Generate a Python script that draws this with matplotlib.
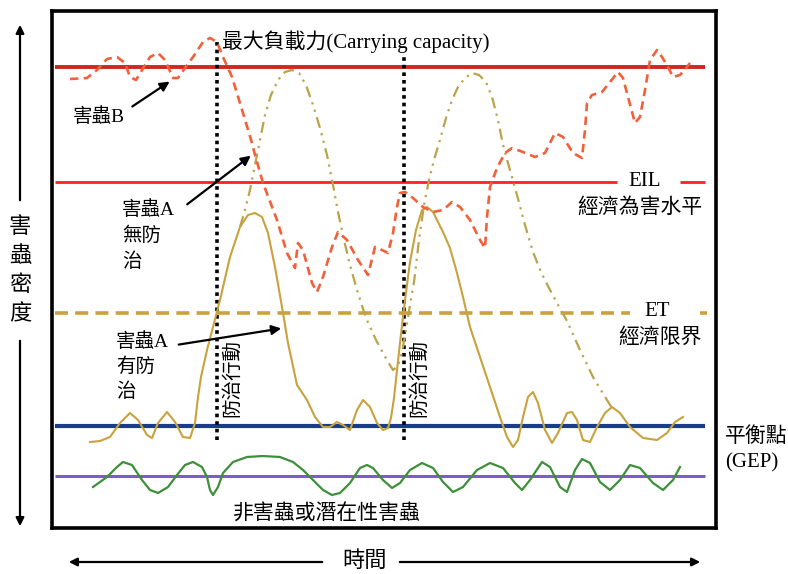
import matplotlib
matplotlib.use("Agg")
import matplotlib.pyplot as plt
import numpy as np

plt.rcParams['font.family'] = ['Liberation Serif', 'Noto Sans CJK TC', 'DejaVu Sans']

# ---------------- data (time, density) ----------------
carrying_level = 461
eil_level = 346
et_level = 215
gep_level = 102
nonpest_level = 52
control_times = [165, 352]
control_tops = [486, 473]
control_bottom = 88

pestB_t = [18, 35, 45, 55, 65, 73, 78, 84, 90, 98, 106, 113, 121, 126, 133, 141, 151, 158, 165, 171,
           180, 191, 200, 203, 211, 225, 235, 243, 246, 251, 260, 265, 271, 280, 286, 295, 306, 316,
           323, 330, 336, 341, 345, 348, 353, 361, 371, 381, 391, 400, 408, 418, 428, 433, 435, 438,
           445, 453, 460, 471, 483, 493, 503, 511, 521, 530, 533, 535, 540, 550, 558, 566, 571, 576,
           583, 588, 593, 598, 605, 610, 616, 621, 628, 635, 638]
pestB_d = [449, 450, 458, 469, 471, 465, 451, 448, 458, 471, 475, 468, 450, 450, 460, 471, 486, 490, 486, 471,
           451, 415, 385, 373, 345, 308, 275, 260, 285, 278, 245, 236, 251, 281, 296, 288, 268, 253,
           281, 278, 275, 295, 321, 335, 336, 330, 321, 316, 318, 326, 321, 308, 288, 280, 311, 341,
           360, 375, 380, 376, 371, 375, 395, 391, 375, 370, 398, 425, 433, 436, 446, 456, 450, 431,
           405, 411, 438, 468, 478, 471, 461, 451, 453, 461, 465]

pestA_free_t = [188, 193, 198, 203, 208, 213, 219, 226, 233, 240, 247, 254, 261, 268, 275, 281, 286, 292,
                298, 305, 314, 325, 336, 341, 346, 350, 354, 358, 362, 367, 372, 377, 382, 388, 394, 400,
                406, 413, 420, 427, 434, 440, 446, 451, 456, 465, 473, 481, 489, 497, 505, 515, 528, 541,
                555, 560]
pestA_free_d = [301, 318, 338, 363, 388, 413, 433, 448, 456, 458, 455, 443, 423, 400, 373, 343, 316, 288,
                263, 238, 210, 186, 166, 158, 162, 176, 198, 223, 246, 288, 323, 348, 368, 388, 410, 428,
                441, 450, 455, 453, 446, 431, 408, 383, 365, 333, 303, 276, 256, 240, 225, 207, 178, 151,
                128, 120]

pestA_ctrl_t = [38, 48, 58, 68, 78, 86, 95, 100, 106, 115, 123, 131, 138, 143, 146, 149, 155, 161, 168,
                178, 188, 196, 203, 210, 216, 223, 230, 236, 245, 255, 263, 271, 278, 285, 291, 298, 305,
                311, 318, 325, 331, 336, 339, 342, 345, 348, 353, 358, 364, 370, 375, 381, 391, 398, 405,
                411, 418, 428, 438, 448, 455, 461, 466, 471, 476, 481, 486, 493, 500, 506, 515, 520, 525,
                531, 538, 545, 553, 560, 568, 578, 591, 605, 615, 623, 631]
pestA_ctrl_d = [86, 87, 91, 105, 115, 108, 93, 90, 105, 116, 106, 91, 90, 105, 131, 151, 178, 201, 228,
                271, 301, 313, 315, 311, 295, 261, 221, 185, 143, 128, 111, 101, 101, 106, 103, 98, 118,
                128, 121, 105, 98, 100, 110, 130, 158, 185, 228, 266, 298, 318, 321, 316, 296, 280, 255,
                231, 201, 171, 141, 111, 91, 81, 88, 111, 131, 136, 125, 98, 85, 95, 115, 116, 108,
                88, 86, 101, 115, 121, 115, 101, 90, 88, 95, 106, 111]

nonpest_t = [41, 48, 55, 65, 71, 80, 90, 98, 106, 116, 125, 133, 141, 150, 155, 158, 161, 166, 171, 181,
             195, 211, 228, 241, 251, 261, 271, 280, 288, 298, 308, 315, 321, 331, 340, 348, 358, 370,
             381, 391, 401, 411, 425, 438, 451, 463, 470, 478, 490, 498, 508, 515, 523, 530, 538, 548,
             558, 568, 578, 588, 601, 611, 621, 628]
nonpest_d = [41, 46, 51, 61, 66, 63, 48, 38, 35, 41, 53, 63, 66, 61, 51, 38, 33, 41, 55, 66,
             71, 72, 71, 66, 58, 48, 38, 33, 35, 45, 60, 63, 60, 48, 40, 45, 58, 65,
             60, 46, 36, 41, 58, 65, 60, 45, 38, 48, 66, 61, 41, 36, 58, 69, 65, 46,
             38, 48, 63, 60, 45, 38, 48, 61]

# ---------------- figure ----------------
W, H = 788, 574
fig = plt.figure(figsize=(W / 100, H / 100), dpi=100)
fig.patch.set_facecolor('white')
ax = fig.add_axes([52 / W, 1 - 528 / H, 664 / W, 517 / H])
ax.set_xlim(0, 664)
ax.set_ylim(0, 517)
ax.set_xticks([])
ax.set_yticks([])
for s in ax.spines.values():
    s.set_linewidth(2.6)
    s.set_color('black')

gold = '#c9a23e'
# reference lines
ax.plot([3, 653], [carrying_level] * 2, color='#cc2a1c', lw=2.8, solid_capstyle='butt')
ax.plot([3, 565], [eil_level] * 2, color='#ff1f1f', lw=2.0, solid_capstyle='butt')
ax.plot([628, 653], [eil_level] * 2, color='#ff1f1f', lw=2.0, solid_capstyle='butt')
ax.plot([3, 578], [et_level] * 2, color=gold, lw=2.6, linestyle=(0, (3.6, 2.0)))
ax.plot([648, 655], [et_level] * 2, color=gold, lw=2.6, solid_capstyle='butt')
ax.plot([3, 653], [gep_level] * 2, color='#1b3c8c', lw=3.0, solid_capstyle='butt')
ax.plot([3, 653], [nonpest_level] * 2, color='#7a5ec6', lw=2.2, solid_capstyle='butt')

# control action lines
for t, top in zip(control_times, control_tops):
    ax.plot([t, t], [control_bottom, top], color='black', lw=2.6, linestyle=(0, (1, 1.1)))

# curves
ax.plot(nonpest_t, nonpest_d, color='#3d8f3a', lw=1.6)
ax.plot(pestA_ctrl_t, pestA_ctrl_d, color=gold, lw=1.5)
ax.plot(pestA_free_t, pestA_free_d, color='#bca24a', lw=1.6, linestyle=(0, (5, 2.5, 1, 2.5, 1, 2.5)))
ax.plot(pestB_t, pestB_d, color='#f2603a', lw=1.9, linestyle=(0, (3.2, 2.0)))

# texts
fs = 14
ax.text(170, 486, '最大負載力(Carrying capacity)', fontsize=15, ha='left', va='center')
ax.text(47, 411, '害蟲B', fontsize=fs, ha='center', va='center')
ax.annotate('', xy=(120, 448), xytext=(78, 420),
            arrowprops=dict(arrowstyle='-|>', color='black', lw=1.6, mutation_scale=14))
ax.text(593, 346, 'EIL', fontsize=15, ha='center', va='center',
        bbox=dict(facecolor='white', edgecolor='none', pad=1))
ax.text(588, 320, '經濟為害水平', fontsize=15, ha='center', va='center')
ax.text(605, 216, 'ET', fontsize=15, ha='center', va='center',
        bbox=dict(facecolor='white', edgecolor='none', pad=1))
ax.text(608, 190, '經濟限界', fontsize=15, ha='center', va='center')

ax.text(70, 318, '害蟲A', fontsize=fs, ha='left', va='center')
ax.text(70, 292, '無防', fontsize=fs, ha='left', va='center')
ax.text(70, 266, '治', fontsize=fs, ha='left', va='center')
ax.annotate('', xy=(201, 374), xytext=(133, 322),
            arrowprops=dict(arrowstyle='-|>', color='black', lw=1.6, mutation_scale=14))

ax.text(64, 186, '害蟲A', fontsize=fs, ha='left', va='center')
ax.text(64, 161, '有防', fontsize=fs, ha='left', va='center')
ax.text(64, 136, '治', fontsize=fs, ha='left', va='center')
ax.annotate('', xy=(232, 200), xytext=(124, 183),
            arrowprops=dict(arrowstyle='-|>', color='black', lw=1.6, mutation_scale=14))

for t in control_times:
    ax.text(t + 15, 150, '防治行動', fontsize=fs, rotation=90, ha='center', va='center')

ax.text(275, 14, '非害蟲或潛在性害蟲', fontsize=15, ha='center', va='center')
ax.text(673, 91, '平衡點', fontsize=15, ha='left', va='center', clip_on=False)
ax.text(673, 65, '(GEP)', fontsize=15, ha='left', va='center', clip_on=False)

# axis arrows
ax.annotate('', xy=(14, -34), xytext=(273, -34), annotation_clip=False,
            arrowprops=dict(arrowstyle='-|>', color='black', lw=1.6, mutation_scale=12))
ax.annotate('', xy=(651, -34), xytext=(345, -34), annotation_clip=False,
            arrowprops=dict(arrowstyle='-|>', color='black', lw=1.6, mutation_scale=12))
ax.text(313, -34, '時間', fontsize=16, ha='center', va='center', clip_on=False)

ax.annotate('', xy=(-32, 506), xytext=(-32, 325), annotation_clip=False,
            arrowprops=dict(arrowstyle='-|>', color='black', lw=1.6, mutation_scale=12))
ax.annotate('', xy=(-32, -1), xytext=(-32, 190), annotation_clip=False,
            arrowprops=dict(arrowstyle='-|>', color='black', lw=1.6, mutation_scale=12))
for i, ch in enumerate('害蟲密度'):
    ax.text(-32, 300 - i * 29, ch, fontsize=16, ha='center', va='center', clip_on=False)

fig.savefig('out.png', dpi=100, facecolor='white')
